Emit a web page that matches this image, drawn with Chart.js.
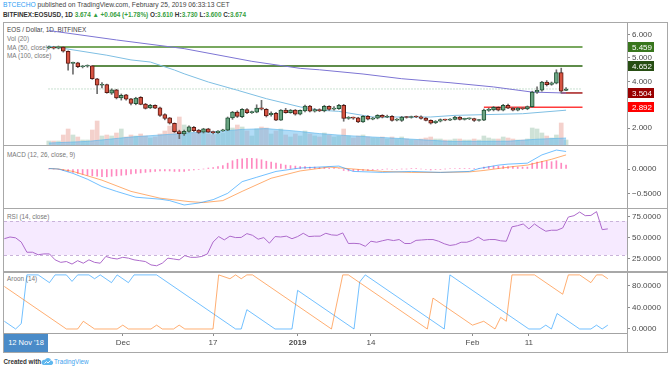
<!DOCTYPE html>
<html>
<head>
<meta charset="utf-8">
<script src="https://cdn.jsdelivr.net/npm/chart.js@4.4.1/dist/chart.umd.min.js"></script>
<style>
body { margin: 0; background: #fff; font-family: "Liberation Sans", Arial, sans-serif; }
#wrap { position: relative; width: 671px; height: 370px; overflow: hidden; }
canvas { position: absolute; z-index: 2; }
.t { position: absolute; white-space: nowrap; line-height: 1; z-index: 1; }
.g { color: #37a042; }
.leg { font-size: 6.4px; color: #777; left: 7px; }
.ln { position: absolute; background: #a8a8a8; z-index: 3; }
</style>
</head>
<body>
<div id="wrap">
  <div class="t" style="left:3px;top:2.4px;font-size:6.7px;color:#444"><span style="color:#2e9ef4">BTCECHO</span> published on TradingView.com, February 25, 2019 06:33:13 CET</div>
  <div class="t" style="left:3px;top:11.5px;font-size:6.4px;font-weight:bold;color:#333">BITFINEX:EOSUSD, 1D <span class="g">3.674 ▲ +0.064 (+1.78%)</span> O:<span class="g">3.610</span> H:<span class="g">3.730</span> L:<span class="g">3.600</span> C:<span class="g">3.674</span></div>

  <div class="t leg" style="top:27.2px;color:#444">EOS / Dollar, 1D, BITFINEX</div>
  <div class="t leg" style="top:35.5px">Vol (20)</div>
  <div class="t leg" style="top:44.8px">MA (50, close)</div>
  <div class="t leg" style="top:53.2px">MA (100, close)</div>
  <div class="t leg" style="top:151.5px">MACD (12, 26, close, 9)</div>
  <div class="t leg" style="top:213.5px">RSI (14, close)</div>
  <div class="t leg" style="top:275.5px">Aroon (14)</div>

  <canvas id="cMain" width="663" height="122" style="left:4px;top:23px"></canvas>
  <canvas id="cMacd" width="663" height="62" style="left:4px;top:146px"></canvas>
  <canvas id="cRsi" width="663" height="62" style="left:4px;top:209px"></canvas>
  <canvas id="cAroon" width="663" height="79" style="left:4px;top:273px"></canvas>

  <!-- frame and pane separators -->
  <div class="ln" style="left:3px;top:22px;width:665px;height:1px"></div>
  <div class="ln" style="left:3px;top:352px;width:665px;height:1px"></div>
  <div class="ln" style="left:3px;top:22px;width:1px;height:331px"></div>
  <div class="ln" style="left:667px;top:22px;width:1px;height:331px"></div>
  <div class="ln" style="left:4px;top:145px;width:663px;height:1px"></div>
  <div class="ln" style="left:4px;top:208px;width:663px;height:1px"></div>
  <div class="ln" style="left:4px;top:271px;width:663px;height:2px"></div>
  <div class="ln" style="left:627px;top:333px;width:1px;height:19px"></div>

  <div class="t" style="left:4px;top:334px;width:44px;height:18px;line-height:18px;font-size:7.5px;color:#fff;background:#4a8bc8;text-align:center;z-index:4">12 Nov '18</div>

  <div class="t" style="left:3.4px;top:358.6px;font-size:6.3px;font-weight:bold;color:#333">Created with</div>
  <svg style="position:absolute;left:41px;top:357px" width="13" height="9" viewBox="0 0 13 9">
    <path d="M2.5 8 H10.5 A2.3 2.3 0 0 0 10.2 3.5 A3.3 3.3 0 0 0 4 2.8 A2.6 2.6 0 0 0 2.5 8 Z" fill="#5fb7ee"/>
    <path d="M3.5 6.5 L5.5 4.5 L7 6 L9.5 3.5" stroke="#fff" stroke-width="0.9" fill="none"/>
  </svg>
  <div class="t" style="left:54px;top:358.6px;font-size:6.3px;color:#3fa3ee">TradingView</div>
</div>

<script>
// daily candles, index 0 = 10 Nov 2018 ... index 107 = 25 Feb 2019
const openP = [5.42,5.45,5.41,5.46,5.28,4.76,4.79,4.62,4.64,4.66,
  4.11,3.83,3.86,3.49,3.64,3.29,3.42,3.25,3.05,3.32,
  3.03,2.87,2.98,2.87,2.58,2.44,2.21,1.86,1.76,1.87,
  2.04,1.92,1.83,1.98,1.86,1.81,1.89,1.92,2.44,2.69,
  2.49,2.80,2.67,2.69,2.87,2.81,2.58,2.64,2.35,2.77,
  2.67,2.77,2.60,2.74,2.95,2.73,2.80,2.74,2.93,2.81,
  2.84,2.98,2.42,2.45,2.44,2.27,2.51,2.39,2.43,2.55,
  2.47,2.51,2.35,2.33,2.48,2.46,2.49,2.49,2.43,2.34,
  2.24,2.30,2.37,2.35,2.38,2.48,2.38,2.40,2.41,2.33,
  2.35,2.76,2.78,2.89,2.77,2.98,2.86,2.77,2.86,2.82,
  2.92,3.54,3.62,3.97,3.87,3.92,4.37,3.610];
const highP = [5.50,5.49,5.50,5.48,5.30,4.82,4.81,4.67,4.70,4.68,
  4.13,3.95,3.88,3.68,3.66,3.46,3.45,3.28,3.32,3.35,
  3.06,3.02,3.00,2.90,2.62,2.46,2.23,1.92,1.92,2.10,
  2.08,1.95,2.00,2.00,1.88,1.90,1.96,2.48,2.72,2.74,
  2.84,2.84,2.73,3.00,3.19,2.84,2.70,2.68,2.80,2.85,
  2.80,2.80,2.78,2.99,2.98,2.84,2.83,2.98,2.96,2.92,
  3.02,3.02,2.50,2.48,2.47,2.54,2.54,2.47,2.58,2.58,
  2.56,2.54,2.41,2.51,2.51,2.52,2.53,2.53,2.46,2.36,
  2.33,2.40,2.39,2.41,2.51,2.50,2.43,2.44,2.43,2.38,
  2.82,2.86,2.93,2.91,3.02,3.03,2.89,2.89,2.89,2.95,
  3.58,3.76,4.00,4.03,3.97,4.49,4.56,3.730];
const lowP = [5.38,5.37,5.38,5.24,4.47,4.30,4.58,4.57,4.60,4.08,
  3.47,3.72,3.49,3.44,3.25,3.20,3.20,3.00,3.00,3.00,
  2.82,2.84,2.83,2.50,2.36,2.18,1.82,1.56,1.70,1.84,
  1.86,1.78,1.80,1.82,1.76,1.78,1.87,1.90,2.38,2.46,
  2.45,2.62,2.63,2.66,2.78,2.48,2.52,2.32,2.33,2.64,
  2.64,2.56,2.57,2.70,2.70,2.69,2.71,2.70,2.76,2.77,
  2.80,2.30,2.38,2.38,2.24,2.25,2.36,2.36,2.40,2.44,
  2.45,2.30,2.31,2.29,2.43,2.43,2.45,2.39,2.31,2.18,
  2.20,2.27,2.32,2.32,2.36,2.35,2.35,2.37,2.29,2.30,
  2.32,2.72,2.74,2.74,2.74,2.83,2.74,2.74,2.79,2.79,
  2.89,3.48,3.58,3.80,3.83,3.89,3.50,3.600];
const closeP = [5.45,5.41,5.46,5.28,4.76,4.79,4.62,4.64,4.66,4.11,
  3.83,3.86,3.52,3.64,3.29,3.40,3.24,3.06,3.29,3.02,
  2.85,2.98,2.86,2.55,2.42,2.22,1.86,1.77,1.87,2.06,
  1.90,1.82,1.98,1.84,1.81,1.88,1.93,2.44,2.69,2.50,
  2.81,2.66,2.70,2.86,2.81,2.53,2.64,2.35,2.77,2.67,
  2.77,2.60,2.76,2.95,2.73,2.80,2.74,2.94,2.80,2.86,
  2.98,2.42,2.45,2.43,2.27,2.51,2.39,2.43,2.55,2.47,
  2.51,2.34,2.37,2.48,2.46,2.49,2.48,2.42,2.34,2.22,
  2.30,2.37,2.35,2.39,2.48,2.38,2.40,2.41,2.33,2.35,
  2.77,2.81,2.89,2.77,2.98,2.86,2.77,2.86,2.82,2.92,
  3.54,3.62,3.97,3.86,3.93,4.37,3.58,3.674];
// volume, millions EOS
const volume = [2,2,2,5,8,5,4,2.5,2.5,7.5,
  12,4.5,5,4.5,6,8,4,5,4.5,5.5,
  4.5,3.5,4,5.5,7,9.5,8,14,10,9,
  6,6.5,6,5.5,5,5.5,6,10.5,8.5,10,
  9,7,4.5,8,9,8.5,5.5,7,8,5,
  4,5.5,4.5,7,5.5,4.5,4,6,5,4,
  4.5,8,4.5,3.5,4.5,5,4,3.5,3.5,4,
  3,4,3,4,3,2.5,2.5,3,3.5,4,
  3,3,2.5,2.5,3,3,2.5,2.5,3,2.5,
  4.5,3.5,3,3,4,3.5,3,2.5,2.5,3,
  8.5,8,6,4.5,3.5,5,11,2.5];
const volMaPts = [[0,1],[8,1.8],[17,4],[26,5.5],[28,6],[35,6.8],[40,7.8],[45,8.2],[51,7],
  [56,5.7],[61,4.8],[67,4],[73,3.2],[83,1.8],[95,1.9],[101,2.9],[107,3.5]];
const ma50Pts = [[0,5.50],[12,5.11],[17,4.91],[21,4.82],[26,4.48],[28,4.32],[33,3.97],[39,3.62],
  [45,3.26],[52,2.91],[56,2.77],[60,2.72],[67,2.48],[79,2.48],[84,2.55],[90,2.58],[98,2.62],[107,2.77]];
const ma100Pts = [[0,6.16],[14,5.76],[28,5.39],[42,4.85],[52,4.55],[56,4.49],[65,4.31],[73,4.11],
  [83,3.94],[92,3.76],[100,3.54],[107,3.50]];

// horizontal levels drawn on the price pane
const levelValues = [5.459, 4.652, 3.504, 2.892];
const levelStart = [0, 9, 106, 90];

const macdPts = [[0,0.01],[2,0],[5,-0.09],[8,-0.21],[11,-0.36],[14,-0.46],[18,-0.58],[23,-0.62],
  [25,-0.65],[28,-0.74],[31,-0.70],[34,-0.63],[37,-0.50],[40,-0.26],[43,-0.17],[47,-0.05],[52,0.02],
  [58,0.05],[60,0.06],[63,-0.05],[69,-0.07],[75,-0.05],[81,-0.07],[87,-0.05],[89,0.01],[93,0.08],
  [95,0.10],[99,0.12],[102,0.29],[105,0.39],[107,0.36]];
const signalPts = [[0,0.01],[2,0],[5,-0.05],[11,-0.23],[17,-0.46],[23,-0.60],[29,-0.67],[32,-0.69],
  [36,-0.65],[40,-0.46],[46,-0.19],[52,-0.04],[58,0.04],[63,0.0],[69,-0.05],[75,-0.07],[81,-0.07],
  [87,-0.06],[90,-0.03],[96,0.05],[99,0.08],[104,0.20],[107,0.29]];
const macdHist = [0,0,-0.01,-0.03,-0.05,-0.07,-0.09,-0.11,-0.13,-0.14,
  -0.15,-0.16,-0.16,-0.15,-0.14,-0.13,-0.12,-0.10,-0.09,-0.08,
  -0.07,-0.06,-0.05,-0.04,-0.04,-0.04,-0.05,-0.05,-0.05,-0.03,
  -0.02,-0.01,0,0.02,0.03,0.05,0.07,0.12,0.17,0.20,
  0.21,0.22,0.22,0.21,0.19,0.16,0.14,0.12,0.10,0.08,
  0.07,0.06,0.05,0.05,0.04,0.04,0.03,0.03,0.02,0.02,
  0.01,-0.03,-0.04,-0.04,-0.04,-0.03,-0.03,-0.02,-0.01,-0.01,
  0,-0.01,-0.01,0,0,0.01,0.01,0,-0.01,-0.02,
  -0.01,-0.01,0,0.01,0.01,0.01,0.01,0.01,0.01,0.01,
  0.04,0.05,0.06,0.06,0.06,0.05,0.05,0.04,0.04,0.04,
  0.12,0.14,0.16,0.16,0.15,0.17,0.12,0.08];

const rsi = [49,51,50,45,33,33,30,31,31,24,
  21,22,19,23,20,24,21,20,28,26,
  25,27,26,24,23,22,18,17,20,26,
  25,24,29,27,27,28,31,45,51.5,47.6,
  52,50.3,50.5,55,53,48.4,50.3,43.7,51.5,51,
  52,49,51.5,55.4,51.5,52,52,55.4,53.5,53,
  55.8,43.3,43.5,43,40,46,44.8,46.5,48,46.8,
  48,43.3,43.3,47,47.5,48,48,46,43,41,
  42,44.8,44.8,47,51,47,48,48,46.5,46,
  63,64.4,66.4,60.6,66.4,61.7,57.8,59,59,61.7,
  74.6,76.2,80.5,76.2,76.5,81,59.7,60.6];
const rsiBandLevels = [70, 30];

const aroonUpPts = [[0,78.6],[11,0],[13,0],[14,14.3],[16,0],[20,0],[21,7.1],[22,0],[26,0],[27,7.1],
  [28,0],[30,0],[31,7.1],[32,0],[37,0],[38,100],[40,92.9],[41,100],[42,92.9],[43,100],[44,100],
  [58,0],[60,100],[61,100],[75,0],[76,57.1],[83,7.1],[85,14.3],[87,0],[88,21.4],[89,14.3],[90,100],
  [94,100],[99,64.3],[100,100],[102,100],[104,85.7],[105,100],[106,100],[107,92.9]];
const aroonDownPts = [[0,14.3],[2,0],[3,10],[4,100],[6,100],[8,85.7],[9,100],[11,100],[12,88],
  [13,100],[15,100],[16,92.9],[17,100],[19,85.7],[20,100],[22,85.7],[23,100],[27,100],[41,0],[42,0],
  [43,35.7],[48,0],[51,0],[52,71.4],[62,0],[63,87],[64,100],[78,0],[79,100],[93,0],[95,0],[96,7.1],
  [97,0],[98,28.6],[102,0],[104,0],[105,7.1],[106,0],[107,7.1]];

// axis ticks
const priceTicks = [2, 3, 4, 5, 6];
const macdTicks = [-0.5, 0];
const rsiTicks = [25, 50, 75];
const aroonTicks = [0, 40, 80];
const tickIdx = [21, 37, 52, 65, 83, 93];
const tickText = ['Dec', '17', '2019', '14', 'Feb', '11'];

// ---- styles ----
const FONT = '"Liberation Sans", Arial, sans-serif';
const X_MIN = -0.06, X_MAX = 110.4;
const UP = '#6ba583', UP_B = '#225437', DN = '#d75442', DN_B = '#5b1a13';
const levelLineColors = ['#78a85f', '#5e8c4a', '#a61c1c', '#ff3b3b'];
const levelLineWidths = [2, 2, 1.5, 1.5];
const levelBoxColors = ['#38761d', '#274e13', '#990000', '#ff0000'];

const idx = openP.map((_, i) => i);
const isUp = i => closeP[i] >= openP[i];
const pts = arr => arr.map(p => ({x: p[0], y: p[1]}));

function yAxis(min, max, ticks, fmt) {
    return {
        position: 'right', min: min, max: max,
        afterFit: s => { s.width = 40; s.paddingTop = 0; s.paddingBottom = 0; },
        afterBuildTicks: s => { s.ticks = ticks.map(v => ({value: v})); },
        border: {color: '#a3a3a3'},
        grid: {drawOnChartArea: false, tickLength: 3, color: '#8c8c8c'},
        ticks: {padding: 2, color: '#4a4a4a', font: {family: FONT, size: 8}, callback: fmt}
    };
}
const hiddenX = {type: 'linear', min: X_MIN, max: X_MAX, display: false};

function opts(scales) {
    return {
        animation: false, responsive: false, devicePixelRatio: 1, events: [],
        layout: {padding: 0},
        plugins: {legend: {display: false}, tooltip: {enabled: false}},
        datasets: {bar: {grouped: false}, line: {pointRadius: 0, borderWidth: 1, tension: 0}},
        scales: scales
    };
}

const levelBoxes = {
    id: 'levelBoxes',
    afterDraw(chart) {
        const y = chart.scales.y, ctx = chart.ctx, x0 = chart.chartArea.right;
        ctx.save();
        ctx.font = '8px ' + FONT;
        ctx.textBaseline = 'middle';
        levelValues.forEach((v, k) => {
            const py = Math.round(y.getPixelForValue(v));
            ctx.fillStyle = levelBoxColors[k];
            ctx.fillRect(x0 + 1, py - 5, 26, 10);
            ctx.fillStyle = '#fff';
            ctx.fillText(v.toFixed(3), x0 + 5, py + 0.5);
        });
        ctx.restore();
    }
};

const rsiBand = {
    id: 'rsiBand',
    beforeDatasetsDraw(chart) {
        const y = chart.scales.y, a = chart.chartArea, ctx = chart.ctx;
        const t = Math.round(y.getPixelForValue(rsiBandLevels[0]));
        const b = Math.round(y.getPixelForValue(rsiBandLevels[1]));
        ctx.save();
        ctx.fillStyle = 'rgba(153,21,255,0.09)';
        ctx.fillRect(a.left, t, a.right - a.left, b - t);
        ctx.strokeStyle = '#c9b3da';
        ctx.lineWidth = 1;
        ctx.setLineDash([3, 3]);
        [t, b].forEach(p => {
            ctx.beginPath();
            ctx.moveTo(a.left, p + 0.5);
            ctx.lineTo(a.right, p + 0.5);
            ctx.stroke();
        });
        ctx.restore();
    }
};

// price pane
const mainSets = [
    {type: 'bar', yAxisID: 'yv', order: 10, barThickness: 4,
     data: idx.map(i => ({x: i, y: volume[i]})),
     backgroundColor: idx.map(i => isUp(i) ? 'rgba(107,165,131,0.32)' : 'rgba(215,84,66,0.27)')},
    {type: 'line', yAxisID: 'yv', order: 9, data: pts(volMaPts), fill: 'origin',
     borderColor: 'rgba(90,180,235,0.6)', backgroundColor: 'rgba(100,185,240,0.5)'},
    {type: 'line', yAxisID: 'y', order: 8, borderDash: [1, 2], borderColor: '#93c2a2',
     data: [{x: X_MIN, y: closeP[closeP.length - 1]}, {x: X_MAX, y: closeP[closeP.length - 1]}]}
];
levelValues.forEach((v, k) => {
    mainSets.push({type: 'line', yAxisID: 'y', order: 8, borderColor: levelLineColors[k],
        borderWidth: levelLineWidths[k], data: [{x: levelStart[k], y: v}, {x: X_MAX, y: v}]});
});
mainSets.push(
    {type: 'line', yAxisID: 'y', order: 7, data: pts(ma100Pts), borderColor: '#7d75d4'},
    {type: 'line', yAxisID: 'y', order: 7, data: pts(ma50Pts), borderColor: '#7fbfe3'},
    {type: 'bar', yAxisID: 'y', order: 3, barThickness: 1, borderSkipped: false,
     data: idx.map(i => ({x: i, y: [lowP[i], highP[i]]})), backgroundColor: '#6e6e6e'},
    {type: 'bar', yAxisID: 'y', order: 2, barThickness: 4, borderWidth: 1, borderSkipped: false, minBarLength: 1,
     data: idx.map(i => ({x: i, y: [openP[i], closeP[i]]})),
     backgroundColor: idx.map(i => isUp(i) ? UP : DN),
     borderColor: idx.map(i => isUp(i) ? UP_B : DN_B)}
);

new Chart(document.getElementById('cMain'), {
    data: {datasets: mainSets},
    options: opts({
        x: hiddenX,
        y: yAxis(1.289, 6.481, priceTicks, v => v.toFixed(3)),
        yv: {display: false, min: 0, max: 61}
    }),
    plugins: [levelBoxes]
});

const fmt4 = v => (v < 0 ? '\u2212' : '') + Math.abs(v).toFixed(4);

new Chart(document.getElementById('cMacd'), {
    data: {datasets: [
        {type: 'bar', order: 3, barThickness: 1, data: idx.map(i => ({x: i, y: macdHist[i]})),
         backgroundColor: 'rgba(255,40,140,0.55)'},
        {type: 'line', order: 2, data: pts(signalPts), borderColor: 'rgba(255,120,20,0.6)'},
        {type: 'line', order: 1, data: pts(macdPts), borderColor: 'rgba(20,150,255,0.6)'}
    ]},
    options: opts({x: hiddenX, y: yAxis(-0.802, 0.473, macdTicks, fmt4)})
});

new Chart(document.getElementById('cRsi'), {
    data: {datasets: [
        {type: 'line', data: idx.map(i => ({x: i, y: rsi[i]})), borderColor: '#ad6acb'}
    ]},
    options: opts({x: hiddenX, y: yAxis(10.8, 84.1, rsiTicks, fmt4)}),
    plugins: [rsiBand]
});

new Chart(document.getElementById('cAroon'), {
    data: {datasets: [
        {type: 'line', data: pts(aroonUpPts), borderColor: 'rgba(255,120,20,0.6)'},
        {type: 'line', data: pts(aroonDownPts), borderColor: 'rgba(20,150,255,0.6)'}
    ]},
    options: opts({
        x: {
            type: 'linear', min: X_MIN, max: X_MAX, position: 'bottom',
            afterFit: s => { s.height = 19; s.paddingLeft = 0; s.paddingRight = 0; },
            afterBuildTicks: s => { s.ticks = tickIdx.map(v => ({value: v})); },
            border: {color: '#a3a3a3'},
            grid: {drawOnChartArea: false, tickLength: 3, color: '#8c8c8c'},
            ticks: {
                autoSkip: false, maxRotation: 0, padding: 2, color: '#4a4a4a',
                font: c => ({family: FONT, size: 8, weight: tickText[c.index] === '2019' ? 'bold' : 'normal'}),
                callback: (v, k) => tickText[k]
            }
        },
        y: yAxis(-7.4, 103.5, aroonTicks, fmt4)
    })
});
</script>
</body>
</html>
